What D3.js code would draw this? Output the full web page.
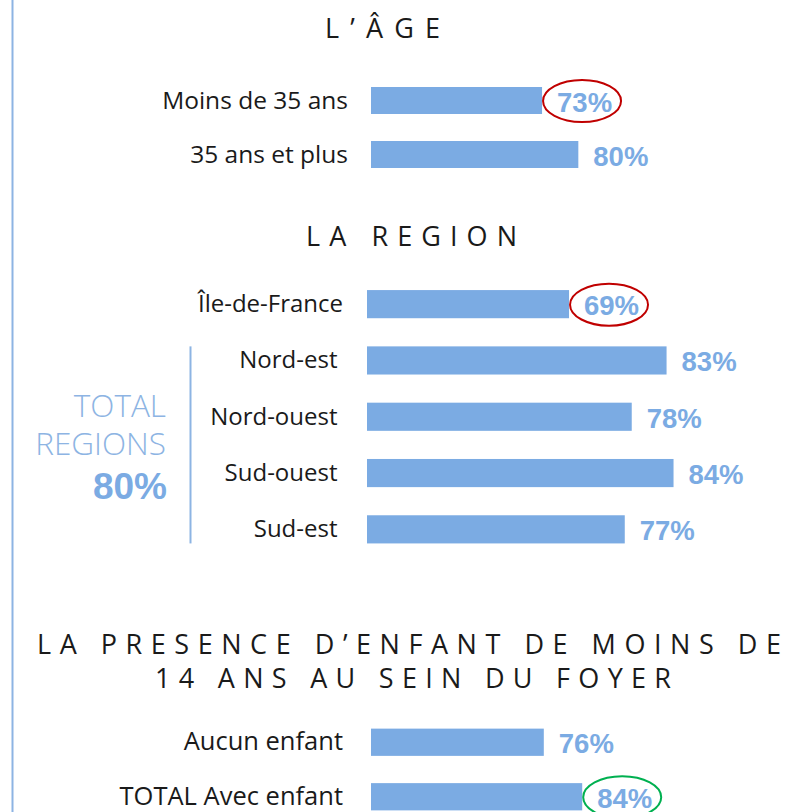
<!DOCTYPE html>
<html>
<head>
<meta charset="utf-8">
<script src="https://cdn.jsdelivr.net/npm/d3@7"></script>
<style>
  html, body { margin: 0; padding: 0; background: #ffffff; }
  svg { display: block; }
  .lab { font-family: "Open Sans", "DejaVu Sans", sans-serif; fill: #1a1a1a; }
  .ttl { font-family: "Open Sans", "DejaVu Sans", sans-serif; fill: #1a1a1a; font-weight: 400; }
  .val { font-family: "Liberation Sans", Arial, sans-serif; font-weight: 700; fill: #7babe3; }
</style>
</head>
<body>
<svg id="chart" width="792" height="812"></svg>
<script>
// ---- data ----
const ageCategories = ["Moins de 35 ans", "35 ans et plus"];
const ageValues = [73, 80];

const regionCategories = ["Île-de-France", "Nord-est", "Nord-ouest", "Sud-ouest", "Sud-est"];
const regionValues = [69, 83, 78, 84, 77];

const childCategories = ["Aucun enfant", "TOTAL Avec enfant"];
const childValues = [76, 84];

const totalRegionsLabel = ["TOTAL", "REGIONS"];
const totalRegionsValue = 80;

const titleAge = "L’ÂGE";
const titleRegion = "LA REGION";
const titleChildLines = ["LA PRESENCE D’ENFANT DE MOINS DE", "14 ANS AU SEIN DU FOYER"];

// highlighted values (category -> ring colour)
const highlightCategories = ["Moins de 35 ans", "Île-de-France", "TOTAL Avec enfant"];
const highlightColors = ["#c00000", "#c00000", "#00b050"];

// ---- drawing ----
const svg = d3.select("#chart");
const barColor = "#7babe3";
const lightBlue = "#8db4e3";
const fmt = v => v + "%";

// left border line
svg.append("line")
  .attr("x1", 12.5).attr("x2", 12.5).attr("y1", 0).attr("y2", 812)
  .attr("stroke", lightBlue).attr("stroke-width", 2);

function title(text, x0, x1, baseline) {
  svg.append("text").attr("class", "ttl")
    .attr("x", x0).attr("y", baseline)
    .attr("font-size", 27)
    .attr("textLength", x1 - x0)
    .attr("lengthAdjust", "spacing")
    .text(text);
}

function section(cats, vals, opt) {
  const x = d3.scaleLinear().domain([40, 100]).range([0, opt.width]);
  const y = d3.scaleBand().domain(cats).range(opt.yRange)
    .paddingInner(0.5).paddingOuter(0.25);
  const g = svg.append("g").attr("transform", `translate(${opt.x0},0)`);
  const rows = cats.map((c, i) => ({ c, v: vals[i] }));

  g.selectAll("rect").data(rows).join("rect")
    .attr("x", 0)
    .attr("y", d => y(d.c))
    .attr("width", d => x(d.v))
    .attr("height", y.bandwidth())
    .attr("fill", barColor);

  g.selectAll("text.val").data(rows).join("text")
    .attr("class", "val")
    .attr("x", d => x(d.v) + 15)
    .attr("y", d => y(d.c) + y.bandwidth() / 2 + 11)
    .attr("font-size", 27.5)
    .text(d => fmt(d.v));

  g.selectAll("ellipse").data(rows.filter(d => highlightCategories.includes(d.c))).join("ellipse")
    .attr("cx", d => x(d.v) + 40)
    .attr("cy", d => y(d.c) + y.bandwidth() / 2 + 0.5)
    .attr("rx", 39).attr("ry", 21)
    .attr("fill", "none")
    .attr("stroke", d => highlightColors[highlightCategories.indexOf(d.c)])
    .attr("stroke-width", 2);

  svg.selectAll(null).data(rows).join("text")
    .attr("class", "lab")
    .attr("x", d => opt.labelX(d.c))
    .attr("y", d => y(d.c) + y.bandwidth() / 2 + 8)
    .attr("text-anchor", "end")
    .attr("font-size", opt.fontSize)
    .text(d => d.c);
  return y;
}

title(titleAge, 325, 440, 37.5);
section(ageCategories, ageValues, {
  x0: 371, width: 311, yRange: [73.5, 181.5], fontSize: 24.5,
  labelX: () => 348
});

title(titleRegion, 306, 517, 246);
const yReg = section(regionCategories, regionValues, {
  x0: 367, width: 418, yRange: [276, 557.5], fontSize: 24,
  labelX: c => c === "Île-de-France" ? 343 : 337.5
});

// TOTAL REGIONS block
svg.append("line")
  .attr("x1", 190.5).attr("x2", 190.5)
  .attr("y1", yReg(regionCategories[1])).attr("y2", yReg(regionCategories[4]) + yReg.bandwidth())
  .attr("stroke", lightBlue).attr("stroke-width", 2);
svg.selectAll(null).data(totalRegionsLabel).join("text")
  .attr("class", "lab")
  .attr("x", 166).attr("y", (d, i) => 416.5 + i * 38.5)
  .attr("text-anchor", "end")
  .attr("font-size", 31.5)
  .attr("font-weight", 300)
  .style("fill", lightBlue)
  .text(d => d);
svg.append("text").attr("class", "val")
  .attr("x", 167).attr("y", 499)
  .attr("text-anchor", "end")
  .attr("font-size", 37)
  .text(fmt(totalRegionsValue));

title(titleChildLines[0], 37, 781, 653.5);
title(titleChildLines[1], 155, 671, 688);
section(childCategories, childValues, {
  x0: 371, width: 288, yRange: [715, 824], fontSize: 25.5,
  labelX: () => 343
});
</script>
</body>
</html>
